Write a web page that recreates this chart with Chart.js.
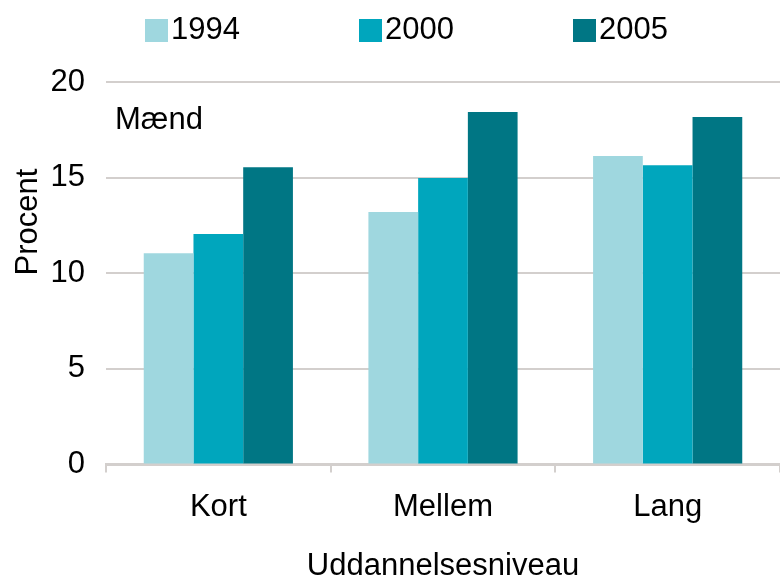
<!DOCTYPE html>
<html>
<head>
<meta charset="utf-8">
<script src="https://cdn.jsdelivr.net/npm/chart.js@4"></script>
<style>
  html, body { margin: 0; padding: 0; background: #ffffff; }
  #wrap { width: 780px; height: 577px; position: relative; }
</style>
</head>
<body>
<div id="wrap"><canvas id="chart"></canvas></div>
<script>
// data
const categories = ['Kort', 'Mellem', 'Lang'];
const seriesNames = ['1994', '2000', '2005'];
const values1994 = [11.05, 13.2, 16.13];
const values2000 = [12.05, 14.98, 15.65];
const values2005 = [15.55, 18.43, 18.17];
const yTicks = [0, 5, 10, 15, 20];

const colors = ['#9fd7df', '#00a6bd', '#007684'];
const FONT = "'Liberation Sans', Arial, sans-serif";
const FSIZE = 31;
const gridColor = '#d3cfcd';

// legend + in-chart label + rotated y title, drawn on the canvas
const extras = {
    id: 'extras',
    afterDraw(chart) {
        const ctx = chart.ctx;
        const area = chart.chartArea;
        ctx.save();
        ctx.font = FSIZE + 'px ' + FONT;
        ctx.fillStyle = '#000000';
        ctx.textBaseline = 'middle';

        // legend
        chart.data.datasets.forEach((ds, i) => {
            const x = 145 + i * 214;
            ctx.fillStyle = ds.backgroundColor;
            ctx.fillRect(x, 19, 23, 23);
            ctx.fillStyle = '#000000';
            ctx.textAlign = 'left';
            ctx.fillText(ds.label, x + 26, 30);
        });

        // panel label
        ctx.textAlign = 'left';
        ctx.fillText('Mænd', area.left + 9, 120);

        // y axis title
        ctx.translate(28, 222);
        ctx.rotate(-Math.PI / 2);
        ctx.textAlign = 'center';
        ctx.fillText('Procent', 0, 0);
        ctx.restore();
    }
};

new Chart(document.getElementById('chart'), {
    type: 'bar',
    data: {
        labels: categories,
        datasets: [
            { label: seriesNames[0], data: values1994, backgroundColor: colors[0] },
            { label: seriesNames[1], data: values2000, backgroundColor: colors[1] },
            { label: seriesNames[2], data: values2005, backgroundColor: colors[2] }
        ]
    },
    options: {
        responsive: true,
        maintainAspectRatio: false,
        animation: false,
        datasets: {
            bar: { categoryPercentage: 0.664, barPercentage: 1.0 }
        },
        layout: { padding: { top: 82, left: 0, right: -4, bottom: -8 } },
        plugins: {
            legend: { display: false },
            tooltip: { enabled: false }
        },
        scales: {
            x: {
                grid: {
                    display: true,
                    offset: true,
                    drawOnChartArea: false,
                    color: gridColor,
                    lineWidth: 2,
                    tickLength: 8
                },
                border: { display: true, color: gridColor, width: 3 },
                ticks: {
                    color: '#000000',
                    font: { family: FONT, size: FSIZE },
                    padding: 16,
                    maxRotation: 0
                },
                title: {
                    display: true,
                    text: 'Uddannelsesniveau',
                    color: '#000000',
                    font: { family: FONT, size: FSIZE },
                    padding: { top: 6, bottom: 0 }
                }
            },
            y: {
                min: 0,
                max: 20,
                afterFit(scale) { scale.width = 106; },
                afterBuildTicks(scale) {
                    scale.ticks = yTicks.map(v => ({ value: v }));
                },
                grid: {
                    color: gridColor,
                    lineWidth: 2,
                    drawTicks: false
                },
                border: { display: false },
                ticks: {
                    color: '#000000',
                    font: { family: FONT, size: FSIZE },
                    padding: 21
                }
            }
        }
    },
    plugins: [extras]
});
</script>
</body>
</html>
